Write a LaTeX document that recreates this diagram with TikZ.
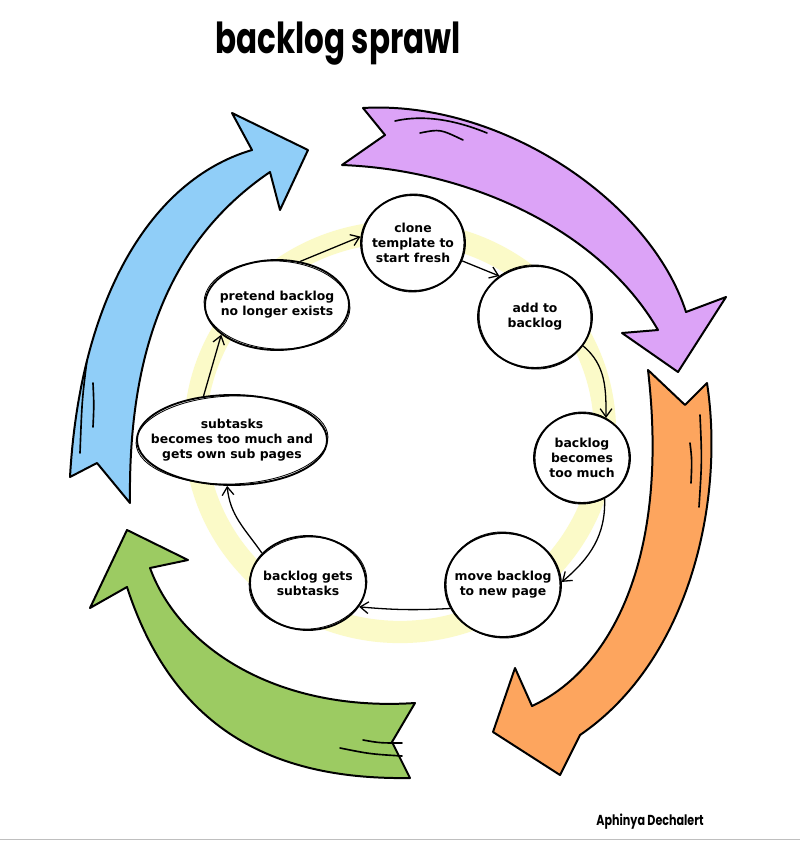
\documentclass[tikz,border=0pt]{standalone}
\usepackage{fontspec}
\setmainfont{DejaVu Sans}
\newfontfamily\titlefont{Poppins}
\usetikzlibrary{shapes.geometric,arrows.meta}
\definecolor{purp}{HTML}{DCA3F7}
\definecolor{oran}{HTML}{FDA55E}
\definecolor{gree}{HTML}{9CCB62}
\definecolor{blu}{HTML}{90CEF8}
\definecolor{ring}{HTML}{FBFAC8}
\tikzset{
  bigarrow/.style={draw=black, line width=1.7pt, line join=round},
  stroke/.style={draw=black, line width=1.4pt, line cap=round},
  blob/.style={ellipse, draw=black, line width=1.6pt, fill=white, inner sep=0pt},
  sketch/.style={draw=black, line width=0.7pt},
  nodetext/.style={font=\bfseries\fontsize{10.6}{13}\selectfont, align=center},
  conn/.style={draw=black, line width=1.1pt, -{Straight Barb[length=7pt,width=10pt]}},
}
\begin{document}
\begin{tikzpicture}[x=0.03cm,y=-0.03cm]
\useasboundingbox (0,0) rectangle (800,842);
\fill[white] (0,0) rectangle (800,842);
\draw[black!25, line width=0.8pt] (0,839) -- (800,839);

% title and signature
\node[font=\titlefont\bfseries\fontsize{27}{32}\selectfont] (title) at (338,44) {\scalebox{0.98}[1.35]{backlog sprawl}};
\node[font=\titlefont\bfseries\fontsize{9.5}{12}\selectfont] (sig) at (650,822) {\scalebox{1}[1.3]{Aphinya Dechalert}};

% big arrows
\path[bigarrow, fill=purp] (363,108) -- (385,135) -- (342,165)
  .. controls (470,170) and (600,230) .. (658,330) -- (622,333) -- (678,372)
  -- (726,297) -- (686,312) .. controls (650,200) and (500,100) .. (363,108) -- cycle;
\draw[stroke] (395,121) .. controls (430,113) and (465,124) .. (487,133);
\draw[stroke] (420,133) .. controls (440,129) .. (463,140);

\path[bigarrow, fill=oran] (648,370) -- (685,405) -- (707,383)
  .. controls (725,500) and (690,660) .. (580,735) -- (560,775) -- (493,732)
  -- (515,668) -- (532,706) .. controls (610,670) and (670,560) .. (648,370) -- cycle;
\draw[stroke] (690,443) .. controls (692,460) .. (691,483);
\draw[stroke] (700,415) .. controls (702,460) .. (699,507);

\path[bigarrow, fill=gree] (415,703) -- (392,742) -- (410,778)
  .. controls (280,780) and (175,735) .. (127,587) -- (90,608) -- (127,530)
  -- (188,560) -- (150,568) .. controls (180,650) and (280,712) .. (415,703) -- cycle;
\draw[stroke] (363,740) .. controls (380,743) .. (402,743);
\draw[stroke] (340,748) .. controls (370,754) .. (402,756);

\path[bigarrow, fill=blu] (70,477) -- (97,463) -- (130,503)
  .. controls (128,350) and (170,240) .. (270,172) -- (280,210) -- (308,150)
  -- (232,113) -- (252,150) .. controls (150,180) and (80,300) .. (70,477) -- cycle;
\draw[stroke] (87,360) .. controls (82,400) .. (80,453);
\draw[stroke] (93,383) .. controls (94,405) .. (93,427);

% yellow ring
\draw[ring, line width=19pt] (400,432) ellipse[x radius=205, y radius=200];

% nodes
\node[blob, minimum width=3.12cm, minimum height=2.88cm,
  label={[nodetext]center:{clone\\template to\\start fresh}}] (clone) at (413,243) {};
\node[blob, minimum width=3.42cm, minimum height=3.06cm,
  label={[nodetext]center:{add to\\backlog}}] (add) at (535,317) {};
\node[blob, minimum width=4.32cm, minimum height=2.7cm,
  label={[nodetext]center:{pretend backlog\\no longer exists}}] (pretend) at (277,305) {};
\node[blob, minimum width=2.88cm, minimum height=2.7cm,
  label={[nodetext]center:{backlog\\becomes\\too much}}] (becomes) at (582,458) {};
\node[blob, minimum width=5.7cm, minimum height=2.7cm,
  label={[nodetext]center:{subtasks\\becomes too much and\\gets own sub pages}}] (subtasks) at (232,440) {};
\node[blob, minimum width=3.48cm, minimum height=3.12cm,
  label={[nodetext]center:{move backlog\\to new page}}] (move) at (503,585) {};
\node[blob, minimum width=3.48cm, minimum height=2.82cm,
  label={[nodetext]center:{backlog gets\\subtasks}}] (gets) at (308,583) {};

% sketchy second strokes
\draw[sketch] (clone.center) ellipse[x radius=51, y radius=49, rotate=6];
\draw[sketch] (add.center) ellipse[x radius=56, y radius=52, rotate=-8];
\draw[sketch] (pretend.center) ellipse[x radius=73, y radius=44, rotate=-3];
\draw[sketch] (becomes.center) ellipse[x radius=47, y radius=46, rotate=10];
\draw[sketch] (subtasks.center) ellipse[x radius=96, y radius=44, rotate=2];
\draw[sketch] (move.center) ellipse[x radius=57, y radius=53, rotate=-6];
\draw[sketch] (gets.center) ellipse[x radius=59, y radius=46, rotate=5];

% connectors
\draw[conn] (pretend.62) -- (clone.173);
\draw[conn] (clone.-20) -- (add.131);
\draw[conn] (add.-31) to[out=-40,in=90] (becomes.59);
\draw[conn] (becomes.-61) to[out=-88,in=40] (move.3);
\draw[conn] (move.204) to[bend left=4] (gets.-25);
\draw[conn] (gets.147) to[out=125,in=-85] (subtasks.-96);
\draw[conn] (subtasks.123) -- (pretend.208);
\end{tikzpicture}
\end{document}
